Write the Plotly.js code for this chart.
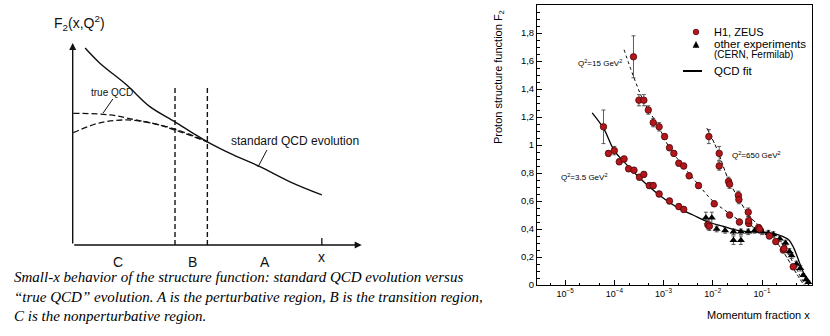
<!DOCTYPE html>
<html>
<head>
<meta charset="utf-8">
<script src="https://cdn.plot.ly/plotly-3.0.1.min.js"></script>
<style>
  html, body { margin: 0; padding: 0; background: #fff; }
  #chart { width: 830px; height: 336px; }
</style>
</head>
<body>
<div id="chart"></div>
<script>
// ---- left sketch (arbitrary units, 0..10 on both axes) ----
let standardX = [0.43, 0.94, 1.87, 2.67, 3.54, 4.17, 4.66, 5.56, 6.48, 7.52, 8.62];
let standardY = [9.75, 9.0, 7.92, 6.85, 6.10, 5.53, 5.11, 4.46, 3.88, 3.13, 2.48];
let trueUpperX = [0.02, 1.29, 2.10, 2.70, 3.54, 4.66];
let trueUpperY = [6.52, 6.44, 6.22, 6.04, 5.74, 5.11];
let trueLowerX = [0.02, 0.94, 1.87, 2.79, 3.54, 4.66];
let trueLowerY = [5.56, 6.05, 6.19, 6.02, 5.69, 5.11];
let regionBounds = [3.54, 4.66];
let regionTop = 7.82;
let regionLabels = ['C', 'B', 'A'];
let regionLabelX = [1.57, 4.13, 6.65];
let xMarkPos = 8.62;

// ---- right plot: F2 data ----
let h1x_q35 = [6.03e-5, 7.59e-5, 1.0e-4, 1.26e-4, 1.58e-4, 1.95e-4, 2.51e-4, 3.24e-4, 3.98e-4, 5.13e-4, 6.17e-4, 8.13e-4, 1.32e-3, 2.04e-3, 2.57e-3, 7.94e-3, 8.51e-3];
let h1y_q35 = [1.13, 0.94, 0.96, 0.88, 0.90, 0.83, 0.82, 0.77, 0.79, 0.71, 0.71, 0.65, 0.60, 0.56, 0.54, 0.43, 0.42];
let h1e_q35 = [0.12, 0.02, 0.03, 0.02, 0.02, 0.02, 0.02, 0.02, 0.02, 0.02, 0.02, 0.02, 0.02, 0.02, 0.02, 0.03, 0.03];
let h1x_q15 = [2.45e-4, 3.16e-4, 3.98e-4, 4.90e-4, 6.17e-4, 8.13e-4, 1.05e-3, 1.32e-3, 1.62e-3, 2.04e-3, 2.57e-3, 3.31e-3, 5.13e-3, 1.07e-2, 2.19e-2, 3.47e-2, 5.37e-2, 8.51e-2, 0.141];
let h1y_q15 = [1.63, 1.32, 1.32, 1.25, 1.16, 1.13, 1.06, 0.98, 0.94, 0.87, 0.85, 0.78, 0.71, 0.58, 0.50, 0.45, 0.44, 0.41, 0.35];
let h1e_q15 = [0.15, 0.04, 0.04, 0.03, 0.03, 0.03, 0.02, 0.02, 0.02, 0.02, 0.02, 0.02, 0.02, 0.02, 0.02, 0.02, 0.02, 0.02, 0.02];
let h1x_q650 = [8.32e-3, 1.35e-2, 1.35e-2, 2.09e-2, 2.19e-2, 3.31e-2, 3.39e-2, 5.25e-2, 5.37e-2, 8.91e-2, 0.19, 0.27, 0.28, 0.43];
let h1y_q650 = [1.06, 0.94, 0.85, 0.74, 0.72, 0.64, 0.61, 0.52, 0.46, 0.40, 0.31, 0.25, 0.26, 0.13];
let h1e_q650 = [0.05, 0.05, 0.03, 0.03, 0.03, 0.03, 0.03, 0.03, 0.03, 0.02, 0.02, 0.02, 0.02, 0.02];
let otherX = [7.24e-3, 9.55e-3, 1.20e-2, 1.78e-2, 2.63e-2, 2.63e-2, 3.72e-2, 3.72e-2, 5.25e-2, 7.08e-2, 0.10, 0.135, 0.17, 0.23, 0.30, 0.36, 0.40, 0.50, 0.60, 0.69, 0.79, 0.87];
let otherY = [0.48, 0.48, 0.40, 0.39, 0.38, 0.32, 0.32, 0.38, 0.38, 0.39, 0.38, 0.37, 0.36, 0.33, 0.30, 0.24, 0.21, 0.15, 0.12, 0.07, 0.04, 0.02];
let otherE = [0.04, 0.04, 0.02, 0.02, 0.02, 0.03, 0.03, 0.02, 0.02, 0.02, 0.02, 0.02, 0.02, 0.02, 0.02, 0.02, 0.02, 0.02, 0.02, 0.01, 0.01, 0.01];
let fitX_q35 = [3.55e-5, 6.03e-5, 1.0e-4, 1.78e-4, 3.16e-4, 5.62e-4, 1.0e-3, 2.0e-3, 3.98e-3, 7.94e-3, 1.58e-2, 3.16e-2, 6.31e-2, 0.1, 0.158, 0.251, 0.355, 0.447, 0.562, 0.708, 0.891];
let fitY_q35 = [1.23, 1.12, 0.96, 0.86, 0.77, 0.69, 0.62, 0.55, 0.50, 0.45, 0.42, 0.39, 0.38, 0.375, 0.37, 0.35, 0.32, 0.26, 0.17, 0.08, 0.0];
let fitX_q15 = [1.58e-4, 2.45e-4, 3.98e-4, 7.94e-4, 1.32e-3, 2.51e-3, 5.01e-3, 1.0e-2, 2.0e-2, 3.55e-2, 6.31e-2, 0.1, 0.158, 0.251, 0.398, 0.562, 0.759];
let fitY_q15 = [1.68, 1.49, 1.31, 1.13, 0.98, 0.85, 0.72, 0.60, 0.52, 0.46, 0.42, 0.39, 0.36, 0.30, 0.18, 0.08, 0.0];
let fitX_q650 = [7.59e-3, 1.12e-2, 1.35e-2, 2.09e-2, 3.31e-2, 5.37e-2, 8.91e-2, 0.141, 0.224, 0.355, 0.525, 0.708];
let fitY_q650 = [1.12, 1.0, 0.93, 0.75, 0.62, 0.50, 0.42, 0.36, 0.28, 0.17, 0.07, 0.0];
let xTicks = [1e-5, 1e-4, 1e-3, 1e-2, 1e-1];
let xTickText = ['10<sup>\u22125</sup>', '10<sup>\u22124</sup>', '10<sup>\u22123</sup>', '10<sup>\u22122</sup>', '10<sup>\u22121</sup>'];
let legendLabels = ['H1, ZEUS', 'other experiments', '(CERN, Fermilab)', 'QCD fit'];

const W = 830, H = 336;
function px(p) { return p / W; }
function py(p) { return 1 - p / H; }

const sketchFont = { family: 'Liberation Sans, Arial, sans-serif', color: '#111' };
const plotFont = { family: 'Liberation Sans, Arial, sans-serif', color: '#000' };
const captionFont = { family: 'Liberation Serif, Times New Roman, serif', size: 15, color: '#000' };
const circleFill = '#b5161b', circleEdge = '#4a0808';

let data = [
    // left sketch
    { x: standardX, y: standardY, xaxis: 'x', yaxis: 'y', mode: 'lines', line: { color: '#111', width: 1.4, shape: 'spline' } },
    { x: trueUpperX, y: trueUpperY, xaxis: 'x', yaxis: 'y', mode: 'lines', line: { color: '#111', width: 1.3, dash: '6px,3px', shape: 'spline' } },
    { x: trueLowerX, y: trueLowerY, xaxis: 'x', yaxis: 'y', mode: 'lines', line: { color: '#111', width: 1.3, dash: '6px,3px', shape: 'spline' } },

    // right plot
    { x: fitX_q35, y: fitY_q35, xaxis: 'x2', yaxis: 'y2', mode: 'lines', line: { color: '#000', width: 1.3, shape: 'spline' } },
    { x: fitX_q15, y: fitY_q15, xaxis: 'x2', yaxis: 'y2', mode: 'lines', line: { color: '#000', width: 1, dash: 'dot', shape: 'spline' } },
    { x: fitX_q650, y: fitY_q650, xaxis: 'x2', yaxis: 'y2', mode: 'lines', line: { color: '#000', width: 1, dash: '4px,2px', shape: 'spline' } },
    {
        x: otherX, y: otherY, xaxis: 'x2', yaxis: 'y2', mode: 'markers',
        marker: { symbol: 'triangle-up', size: 7, color: '#000' },
        error_y: { type: 'data', array: otherE, color: '#333', thickness: 0.8, width: 2 }
    },
    {
        x: h1x_q35.concat(h1x_q15, h1x_q650), y: h1y_q35.concat(h1y_q15, h1y_q650),
        xaxis: 'x2', yaxis: 'y2', mode: 'markers',
        marker: { symbol: 'circle', size: 6.5, color: circleFill, line: { color: circleEdge, width: 0.8 } },
        error_y: { type: 'data', array: h1e_q35.concat(h1e_q15, h1e_q650), color: '#333', thickness: 0.8, width: 2 }
    }
];

let shapes = [];
regionBounds.forEach(b => {
    shapes.push({ type: 'line', xref: 'x', yref: 'y', x0: b, x1: b, y0: 0, y1: regionTop, line: { color: '#111', width: 1.4, dash: '5px,3px' } });
});
shapes.push({ type: 'line', xref: 'x', yref: 'y', x0: xMarkPos, x1: xMarkPos, y0: 0, y1: 0.35, line: { color: '#111', width: 1.3 } });
// pointer strokes for the sketch labels
shapes.push({ type: 'line', xref: 'x', yref: 'y', x0: 1.39, y0: 7.23, x1: 1.05, y1: 6.53, line: { color: '#111', width: 1 } });
shapes.push({ type: 'line', xref: 'x', yref: 'y', x0: 6.72, y0: 4.70, x1: 6.41, y1: 3.86, line: { color: '#111', width: 1 } });

// legend keys (drawn by hand to match the original box layout)
shapes.push({ type: 'circle', xref: 'paper', yref: 'paper', x0: px(693.2), x1: px(698.8), y0: py(34.8), y1: py(29.2), fillcolor: circleFill, line: { color: circleEdge, width: 0.8 } });
shapes.push({ type: 'path', xref: 'paper', yref: 'paper', path: 'M ' + px(693) + ' ' + py(47.5) + ' L ' + px(699) + ' ' + py(47.5) + ' L ' + px(696) + ' ' + py(41.5) + ' Z', fillcolor: '#000', line: { color: '#000', width: 0.5 } });
shapes.push({ type: 'line', xref: 'paper', yref: 'paper', x0: px(683), x1: px(702), y0: py(71), y1: py(71), line: { color: '#000', width: 2 } });

function note(opts) {
    return Object.assign({ showarrow: false, xanchor: 'center', yanchor: 'middle' }, opts);
}

let annotations = [
    // sketch axes with arrowheads
    { xref: 'x', yref: 'y', axref: 'x', ayref: 'y', x: 10, y: 0, ax: 0, ay: 0, text: '', showarrow: true, arrowhead: 2, arrowsize: 1, arrowwidth: 1.4, arrowcolor: '#111' },
    { xref: 'x', yref: 'y', axref: 'x', ayref: 'y', x: 0, y: 10, ax: 0, ay: 0, text: '', showarrow: true, arrowhead: 2, arrowsize: 1, arrowwidth: 1.4, arrowcolor: '#111' },
    note({ xref: 'paper', yref: 'paper', x: px(79), y: py(23), text: 'F<sub>2</sub>(x,Q<sup>2</sup>)', font: Object.assign({ size: 14 }, sketchFont) }),
    note({ xref: 'x', yref: 'y', x: 1.36, y: 7.57, text: 'true QCD', font: Object.assign({ size: 10 }, sketchFont) }),
    note({ xref: 'x', yref: 'y', x: 7.7, y: 5.15, text: 'standard QCD evolution', font: Object.assign({ size: 12 }, sketchFont) }),
    note({ xref: 'x', yref: 'paper', x: xMarkPos, y: py(257), text: 'x', font: Object.assign({ size: 14 }, sketchFont) }),
    // caption
    note({ xref: 'paper', yref: 'paper', xanchor: 'left', x: px(12), y: py(277), text: '<i>Small-x behavior of the structure function: standard QCD evolution versus</i>', font: captionFont }),
    note({ xref: 'paper', yref: 'paper', xanchor: 'left', x: px(12), y: py(297), text: '<i>\u201ctrue QCD\u201d evolution. A is the perturbative region, B is the transition region,</i>', font: captionFont }),
    note({ xref: 'paper', yref: 'paper', xanchor: 'left', x: px(12), y: py(316), text: '<i>C is the nonperturbative region.</i>', font: captionFont }),
    // right plot labels
    note({ xref: 'paper', yref: 'paper', x: px(499), y: py(77), textangle: -90, text: 'Proton structure function F<sub>2</sub>', font: Object.assign({ size: 11 }, plotFont) }),
    note({ xref: 'paper', yref: 'paper', xanchor: 'right', x: px(812), y: py(315), text: 'Momentum fraction x', font: Object.assign({ size: 11 }, plotFont) }),
    note({ xref: 'paper', yref: 'paper', x: px(600), y: py(63), text: 'Q<sup>2</sup>=15 GeV<sup>2</sup>', font: Object.assign({ size: 8 }, plotFont) }),
    note({ xref: 'paper', yref: 'paper', x: px(756), y: py(155), text: 'Q<sup>2</sup>=650 GeV<sup>2</sup>', font: Object.assign({ size: 8 }, plotFont) }),
    note({ xref: 'paper', yref: 'paper', x: px(584), y: py(177), text: 'Q<sup>2</sup>=3.5 GeV<sup>2</sup>', font: Object.assign({ size: 8 }, plotFont) }),
    // legend texts
    note({ xref: 'paper', yref: 'paper', xanchor: 'left', x: px(712), y: py(32), text: legendLabels[0], font: Object.assign({ size: 11 }, plotFont) }),
    note({ xref: 'paper', yref: 'paper', xanchor: 'left', x: px(712), y: py(44), text: legendLabels[1], font: Object.assign({ size: 11.5 }, plotFont) }),
    note({ xref: 'paper', yref: 'paper', xanchor: 'left', x: px(712), y: py(55), text: legendLabels[2], font: Object.assign({ size: 10 }, plotFont) }),
    note({ xref: 'paper', yref: 'paper', xanchor: 'left', x: px(712), y: py(71), text: legendLabels[3], font: Object.assign({ size: 11.5 }, plotFont) })
];
regionLabels.forEach((lab, i) => {
    annotations.push(note({ xref: 'x', yref: 'paper', x: regionLabelX[i], y: py(262), text: lab, font: Object.assign({ size: 14 }, sketchFont) }));
});

let hidden = { showgrid: false, zeroline: false, showticklabels: false, showline: false, ticks: '', fixedrange: true };

let layout = {
    width: W, height: H,
    margin: { l: 0, r: 0, t: 0, b: 0 },
    paper_bgcolor: '#fff', plot_bgcolor: 'rgba(0,0,0,0)',
    separators: ', ',
    font: plotFont,
    showlegend: false,
    xaxis: Object.assign({ domain: [px(72.7), px(361.7)], range: [0, 10], anchor: 'y' }, hidden),
    yaxis: Object.assign({ domain: [py(245), py(43)], range: [0, 10], anchor: 'x' }, hidden),
    xaxis2: {
        domain: [px(537), px(812)], anchor: 'y2', type: 'log', range: [-5.57, 0.015],
        tickmode: 'array', tickvals: xTicks, ticktext: xTickText,
        ticks: 'inside', ticklen: 5, tickcolor: '#000',
        minor: { ticks: 'inside', ticklen: 2.5, tickcolor: '#000' },
        showline: true, mirror: true, linecolor: '#000', linewidth: 1,
        showgrid: false, zeroline: false, tickfont: Object.assign({ size: 9 }, plotFont)
    },
    yaxis2: {
        domain: [py(285), py(5)], anchor: 'x2', range: [0, 2], dtick: 0.2,
        ticks: 'inside', ticklen: 5, tickcolor: '#000',
        minor: { dtick: 0.05, ticks: 'inside', ticklen: 2.5, tickcolor: '#000' },
        showline: true, mirror: true, linecolor: '#000', linewidth: 1,
        showgrid: false, zeroline: false, tickfont: Object.assign({ size: 9.5 }, plotFont)
    },
    shapes: shapes,
    annotations: annotations
};

Plotly.newPlot('chart', data, layout, { staticPlot: true });
</script>
</body>
</html>
